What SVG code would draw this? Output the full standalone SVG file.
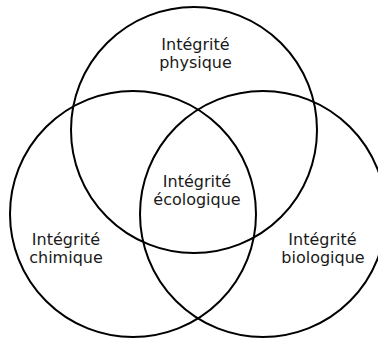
<svg xmlns="http://www.w3.org/2000/svg" width="378" height="338" viewBox="0 0 378 338">
<style>
.c{fill:none;stroke:#000;stroke-width:2}
.t{font-family:"DejaVu Sans",Verdana,sans-serif;font-size:16px;fill:#1a1a1a;text-anchor:middle}
</style>
<rect width="378" height="338" fill="#fff"/>
<g id="physique">
<circle class="c" cx="194" cy="130" r="123"/>
<text class="t" x="195.5" y="50">Intégrité</text>
<text class="t" x="195.5" y="68">physique</text>
</g>
<g id="chimique">
<circle class="c" cx="133" cy="214" r="123"/>
<text class="t" x="66" y="245">Intégrité</text>
<text class="t" x="66" y="263">chimique</text>
</g>
<g id="biologique">
<circle class="c" cx="263" cy="214" r="123"/>
<text class="t" x="322.5" y="245">Intégrité</text>
<text class="t" x="323" y="263">biologique</text>
</g>
<g id="ecologique">
<text class="t" x="197" y="187">Intégrité</text>
<text class="t" x="197" y="205">écologique</text>
</g>
</svg>
